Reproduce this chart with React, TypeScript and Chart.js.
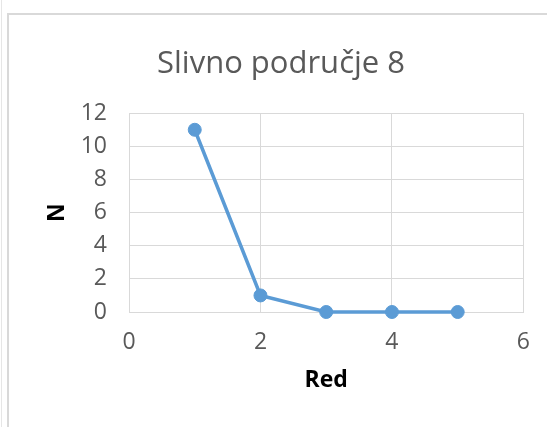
import React, { useEffect, useRef } from "react";
import { Chart, registerables } from "chart.js";

Chart.register(...registerables);

const chartTitle = "Slivno područje 8";
const xAxisTitle = "Red";
const yAxisTitle = "N";
const redValues = [1, 2, 3, 4, 5];
const nValues = [11, 1, 0, 0, 0];
const xMin = 0;
const xMax = 6;
const xStep = 2;
const yMin = 0;
const yMax = 12;
const yStep = 2;

const FONT = "'Open Sans', 'DejaVu Sans', sans-serif";
const BLUE = "#5b9bd5";
const GRID = "#d9d9d9";
const TICK = "#595959";

export default function App() {
  const canvasRef = useRef<HTMLCanvasElement | null>(null);

  useEffect(() => {
    document.body.style.margin = "0";
    const canvas = canvasRef.current;
    if (!canvas) return;
    const chart = new Chart(canvas, {
      type: "line",
      data: {
        datasets: [
          {
            label: yAxisTitle,
            data: redValues.map((x, i) => ({ x, y: nValues[i] })),
            borderColor: BLUE,
            backgroundColor: BLUE,
            borderWidth: 3.5,
            pointRadius: 6.5,
            pointHoverRadius: 6.5,
            pointBackgroundColor: BLUE,
            pointBorderColor: BLUE,
            pointBorderWidth: 1,
            tension: 0,
            clip: false as any,
          },
        ],
      },
      options: {
        responsive: false,
        animation: false,
        events: [],
        layout: { padding: { left: 38, right: 23, top: 0, bottom: 33 } },
        plugins: {
          legend: { display: false },
          tooltip: { enabled: false },
          title: {
            display: true,
            text: chartTitle,
            color: TICK,
            font: { family: FONT, size: 31, weight: "normal" as any, lineHeight: 1.2 },
            padding: { top: 46, bottom: 30 },
          },
        },
        scales: {
          x: {
            type: "linear",
            min: xMin,
            max: xMax,
            ticks: {
              stepSize: xStep,
              color: TICK,
              padding: 17,
              font: { family: FONT, size: 23 },
            },
            grid: { color: GRID, lineWidth: 1, drawTicks: false },
            border: { color: GRID, width: 1 },
            title: {
              display: true,
              text: xAxisTitle,
              color: "#000",
              font: { family: FONT, size: 23, weight: "bold" as any, lineHeight: 1.2 },
              padding: { top: 0, bottom: 0 },
            },
            afterFit: (scale: any) => {
              scale.height = 82;
            },
          },
          y: {
            type: "linear",
            min: yMin,
            max: yMax,
            ticks: {
              stepSize: yStep,
              color: TICK,
              padding: 22,
              font: { family: FONT, size: 23 },
            },
            grid: { color: GRID, lineWidth: 1, drawTicks: false },
            border: { color: GRID, width: 1 },
            title: {
              display: true,
              text: yAxisTitle,
              color: "#000",
              font: { family: FONT, size: 23, weight: "bold" as any, lineHeight: 1.2 },
              padding: { top: 6, bottom: 0 },
            },
            afterFit: (scale: any) => {
              scale.width = 91;
            },
          },
        },
      },
    });
    return () => chart.destroy();
  }, []);

  return (
    <div style={{ position: "relative", width: 547, height: 427, overflow: "hidden", background: "#fff" }}>
      <div style={{ position: "absolute", left: 1, top: 0, width: 1, height: 427, background: "#e6e6e6" }} />
      <div
        style={{
          position: "absolute",
          left: 7,
          top: 13,
          width: 600,
          height: 500,
          borderTop: "2px solid #d9d9d9",
          borderLeft: "2px solid #d9d9d9",
        }}
      />
      <canvas ref={canvasRef} width={547} height={427} style={{ position: "absolute", left: 0, top: 0 }} />
    </div>
  );
}
